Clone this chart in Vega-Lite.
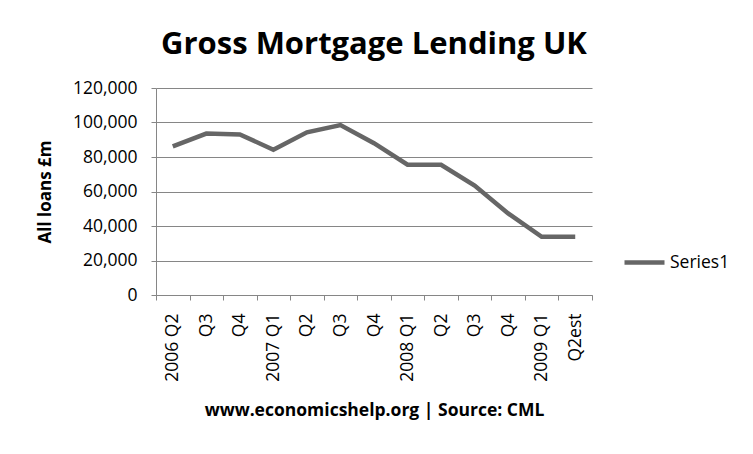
{
  "$schema": "https://vega.github.io/schema/vega-lite/v6.json",
  "width": 436,
  "height": 207,
  "autosize": "none",
  "padding": {"left": 156, "top": 88, "right": 161, "bottom": 159},
  "background": "white",
  "title": {
    "text": "Gross Mortgage Lending UK",
    "font": "Open Sans",
    "fontSize": 31,
    "fontWeight": "bold",
    "color": "#000000",
    "anchor": "middle",
    "offset": 18
  },
  "data": {
    "values": [
      {"q": "2006 Q2", "v": 86200, "s": "Series1"},
      {"q": "2006 Q3", "v": 93600, "s": "Series1"},
      {"q": "2006 Q4", "v": 93100, "s": "Series1"},
      {"q": "2007 Q1", "v": 84200, "s": "Series1"},
      {"q": "2007 Q2", "v": 94300, "s": "Series1"},
      {"q": "2007 Q3", "v": 98500, "s": "Series1"},
      {"q": "2007 Q4", "v": 88000, "s": "Series1"},
      {"q": "2008 Q1", "v": 75500, "s": "Series1"},
      {"q": "2008 Q2", "v": 75500, "s": "Series1"},
      {"q": "2008 Q3", "v": 63500, "s": "Series1"},
      {"q": "2008 Q4", "v": 47300, "s": "Series1"},
      {"q": "2009 Q1", "v": 33700, "s": "Series1"},
      {"q": "2009 Q2est", "v": 33700, "s": "Series1"}
    ]
  },
  "mark": {"type": "line", "strokeWidth": 4.5},
  "encoding": {
    "x": {
      "field": "q",
      "type": "ordinal",
      "sort": null,
      "scale": {"type": "band", "paddingInner": 0, "paddingOuter": 0},
      "axis": {
        "title": "www.economicshelp.org | Source: CML",
        "titleFont": "Open Sans",
        "titleFontSize": 17.5,
        "titleFontWeight": "bold",
        "titleColor": "#000000",
        "titlePadding": 20,
        "labelExpr": "test(/Q1$|2006 Q2/, datum.value) ? datum.value : split(datum.value, ' ')[1]",
        "labelAngle": 270,
        "labelAlign": "right",
        "labelBaseline": "middle",
        "labelFont": "Open Sans",
        "labelFontSize": 17.5,
        "labelColor": "#000000",
        "labelPadding": 13,
        "tickBand": "extent",
        "tickSize": 5,
        "tickColor": "#868686",
        "domainColor": "#868686",
        "grid": false
      }
    },
    "y": {
      "field": "v",
      "type": "quantitative",
      "scale": {"domain": [0, 120000], "nice": false},
      "axis": {
        "title": "All loans £m",
        "titleFont": "Open Sans",
        "titleFontSize": 17,
        "titleFontWeight": "bold",
        "titleColor": "#000000",
        "titlePadding": 18,
        "values": [0, 20000, 40000, 60000, 80000, 100000, 120000],
        "format": ",d",
        "labelFont": "Open Sans",
        "labelFontSize": 17.5,
        "labelColor": "#000000",
        "labelPadding": 14,
        "tickSize": 5,
        "tickColor": "#868686",
        "domainColor": "#868686",
        "gridColor": "#868686",
        "gridWidth": 1.2
      }
    },
    "color": {
      "field": "s",
      "type": "nominal",
      "scale": {"range": ["#666666"]},
      "legend": {
        "title": null,
        "orient": "none",
        "legendX": 466,
        "legendY": 152,
        "symbolType": "stroke",
        "symbolStrokeWidth": 4.5,
        "symbolSize": 1600,
        "labelFont": "Open Sans",
        "labelFontSize": 17.5,
        "labelColor": "#000000",
        "labelOffset": 3
      }
    }
  },
  "config": {
    "view": {"stroke": null}
  }
}
